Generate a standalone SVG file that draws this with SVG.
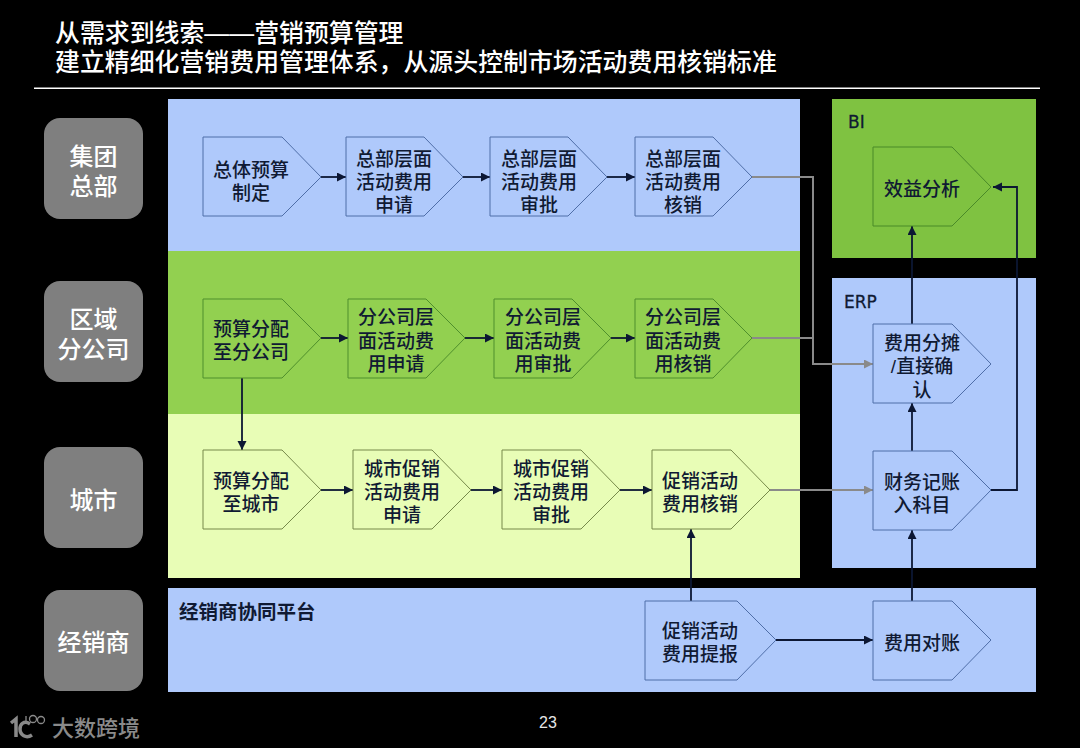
<svg xmlns="http://www.w3.org/2000/svg" width="1080" height="748" viewBox="0 0 1080 748">
<style>
text{font-family:"Liberation Sans","Noto Sans CJK SC",sans-serif}
.t{font-size:19px;fill:#101a33;text-anchor:middle;font-weight:500;transform:translateY(1px)}
.side{font-size:24px;fill:#fff;text-anchor:middle;font-weight:500;transform:translateY(1px)}
.title{font-size:24.9px;fill:#fff;font-weight:500}
.s{fill:#7f7f7f}
.nb{fill:#afc9fb;stroke:#4f6ea8;stroke-width:1}
.ng{fill:#92d050;stroke:#4f8f2c;stroke-width:1}
.nl{fill:#e8fdb6;stroke:#76894a;stroke-width:1}
.nbi{fill:#7fc241;stroke:#4a8a28;stroke-width:1}
.c{fill:none;stroke:#0c1733;stroke-width:1.800}
.cg{fill:none;stroke:#8a8a8a;stroke-width:2}
</style>
<defs>
<marker id="a" markerUnits="userSpaceOnUse" markerWidth="11" markerHeight="10" refX="9" refY="4.500" orient="auto"><path d="M0 0L9 4.500L0 9Z" fill="#0c1733"/></marker>
<marker id="g" markerUnits="userSpaceOnUse" markerWidth="11" markerHeight="10" refX="9" refY="4.500" orient="auto"><path d="M0 0L9 4.500L0 9Z" fill="#8a8a8a"/></marker>
</defs>
<rect width="1080" height="748" fill="#000"/>
<text class="title" x="55" y="42">从需求到线索——营销预算管理</text>
<text class="title" x="55" y="71">建立精细化营销费用管理体系，从源头控制市场活动费用核销标准</text>
<rect x="34" y="87.500" width="1006" height="1.500" fill="#fff"/>

<g id="panels">
<rect x="168" y="99" width="632" height="152" fill="#afc9fb"/>
<rect x="168" y="251" width="632" height="163" fill="#92d050"/>
<rect x="168" y="414" width="632" height="164" fill="#e8fdb6"/>
<rect x="168" y="588" width="868" height="104" fill="#afc9fb"/>
<rect x="832" y="99" width="204" height="159" fill="#7fc241"/>
<rect x="832" y="278" width="204" height="290" fill="#afc9fb"/>
<text x="848" y="128" font-size="17" fill="#101a33" stroke="#101a33" stroke-width="0.300" style="font-family:'DejaVu Sans',sans-serif">BI</text>
<text x="844" y="308" font-size="17" fill="#101a33" stroke="#101a33" stroke-width="0.300" style="font-family:'DejaVu Sans',sans-serif">ERP</text>
<text x="179" y="619" font-size="19.500" font-weight="bold" fill="#101a33">经销商协同平台</text>
</g>

<g id="side-labels">
<g id="side-hq"><rect class="s" x="44" y="118" width="99" height="101" rx="16"/><text class="side" x="93.500" y="164">集团</text><text class="side" x="93.500" y="194">总部</text></g>
<g id="side-region"><rect class="s" x="44" y="281" width="99" height="101" rx="16"/><text class="side" x="93.500" y="327">区域</text><text class="side" x="93.500" y="357">分公司</text></g>
<g id="side-city"><rect class="s" x="44" y="447" width="99" height="101" rx="16"/><text class="side" x="93.500" y="508">城市</text></g>
<g id="side-dealer"><rect class="s" x="44" y="590" width="99" height="101" rx="16"/><text class="side" x="93.500" y="650">经销商</text></g>
</g>

<g id="connectors">
<path class="c" marker-end="url(#a)" d="M321 177H346"/>
<path class="c" marker-end="url(#a)" d="M463 177H490"/>
<path class="c" marker-end="url(#a)" d="M607 177H635"/>
<path class="c" marker-end="url(#a)" d="M321 338H348"/>
<path class="c" marker-end="url(#a)" d="M465 338H494"/>
<path class="c" marker-end="url(#a)" d="M611 338H635"/>
<path class="c" marker-end="url(#a)" d="M321 490H353"/>
<path class="c" marker-end="url(#a)" d="M471 490H502"/>
<path class="c" marker-end="url(#a)" d="M620 490H652"/>
<path class="c" marker-end="url(#a)" d="M242 378V450"/>
<path class="c" marker-end="url(#a)" d="M691 601V529"/>
<path class="c" marker-end="url(#a)" d="M776 640H873"/>
<path class="c" marker-end="url(#a)" d="M912 601V530"/>
<path class="c" marker-end="url(#a)" d="M912 451V403"/>
<path class="c" marker-end="url(#a)" d="M912 324V226"/>
<path class="c" marker-end="url(#a)" d="M991 490H1017V187H993"/>
<path class="cg" marker-end="url(#g)" d="M752 177H813V364H873"/>
<path class="cg" d="M752 338H813"/>
<path class="cg" marker-end="url(#g)" d="M770 490H873"/>
</g>

<g id="n1"><polygon class="nb" points="203,137 282,137 321,177 282,216 203,216"/><text class="t" x="251" y="176">总体预算</text><text class="t" x="251" y="199">制定</text></g>
<g id="n2"><polygon class="nb" points="346,137 424,137 463,177 424,216 346,216"/><text class="t" x="394" y="165">总部层面</text><text class="t" x="394" y="188">活动费用</text><text class="t" x="394" y="211">申请</text></g>
<g id="n3"><polygon class="nb" points="490,137 568,137 607,177 568,216 490,216"/><text class="t" x="539" y="165">总部层面</text><text class="t" x="539" y="188">活动费用</text><text class="t" x="539" y="211">审批</text></g>
<g id="n4"><polygon class="nb" points="635,137 713,137 752,177 713,216 635,216"/><text class="t" x="683" y="165">总部层面</text><text class="t" x="683" y="188">活动费用</text><text class="t" x="683" y="211">核销</text></g>

<g id="n5"><polygon class="ng" points="203,299 282,299 321,338 282,378 203,378"/><text class="t" x="251" y="335">预算分配</text><text class="t" x="251" y="358">至分公司</text></g>
<g id="n6"><polygon class="ng" points="348,299 426,299 465,338 426,378 348,378"/><text class="t" x="396" y="323">分公司层</text><text class="t" x="396" y="347">面活动费</text><text class="t" x="396" y="370">用申请</text></g>
<g id="n7"><polygon class="ng" points="494,299 572,299 611,338 572,378 494,378"/><text class="t" x="543" y="323">分公司层</text><text class="t" x="543" y="347">面活动费</text><text class="t" x="543" y="370">用审批</text></g>
<g id="n8"><polygon class="ng" points="635,299 713,299 752,338 713,378 635,378"/><text class="t" x="683" y="323">分公司层</text><text class="t" x="683" y="347">面活动费</text><text class="t" x="683" y="370">用核销</text></g>

<g id="n9"><polygon class="nl" points="203,450 282,450 321,490 282,529 203,529"/><text class="t" x="251" y="487">预算分配</text><text class="t" x="251" y="510">至城市</text></g>
<g id="n10"><polygon class="nl" points="353,450 432,450 471,490 432,529 353,529"/><text class="t" x="402" y="475">城市促销</text><text class="t" x="402" y="498">活动费用</text><text class="t" x="402" y="521">申请</text></g>
<g id="n11"><polygon class="nl" points="502,450 581,450 620,490 581,529 502,529"/><text class="t" x="551" y="475">城市促销</text><text class="t" x="551" y="498">活动费用</text><text class="t" x="551" y="521">审批</text></g>
<g id="n12"><polygon class="nl" points="652,450 731,450 770,490 731,529 652,529"/><text class="t" x="700" y="487">促销活动</text><text class="t" x="700" y="510">费用核销</text></g>

<g id="n13"><polygon class="nb" points="645,601 737,601 776,640 737,680 645,680"/><text class="t" x="700" y="637">促销活动</text><text class="t" x="700" y="660">费用提报</text></g>
<g id="n14"><polygon class="nb" points="873,601 952,601 991,640 952,680 873,680"/><text class="t" x="922" y="649">费用对账</text></g>
<g id="n15"><polygon class="nb" points="873,451 952,451 991,490 952,530 873,530"/><text class="t" x="922" y="488">财务记账</text><text class="t" x="922" y="511">入科目</text></g>
<g id="n16"><polygon class="nb" points="873,324 952,324 991,364 952,403 873,403"/><text class="t" x="922" y="349">费用分摊</text><text class="t" x="922" y="372">/直接确</text><text class="t" x="922" y="396">认</text></g>
<g id="n17"><polygon class="nbi" points="873,147 952,147 991,187 952,226 873,226"/><text class="t" x="922" y="195">效益分析</text></g>

<text x="548" y="728" font-size="16" fill="#e6e6e6" text-anchor="middle">23</text>

<g id="logo" fill="none" stroke="#8a8a8a">
<path d="M11 723L16 719V737" stroke-width="3.500"/>
<path d="M30 724C24 720 20 724 20 729C20 735 26 739 32 735" stroke-width="3.500"/>
<circle cx="33" cy="719" r="3.500" stroke-width="1.300"/>
<circle cx="41" cy="720" r="3.500" stroke-width="1.300"/>
<path d="M26 716V724" stroke-width="1.300"/>
</g>
<text x="52" y="736" font-size="22" font-weight="500" fill="#8a8a8a">大数跨境</text>
</svg>
